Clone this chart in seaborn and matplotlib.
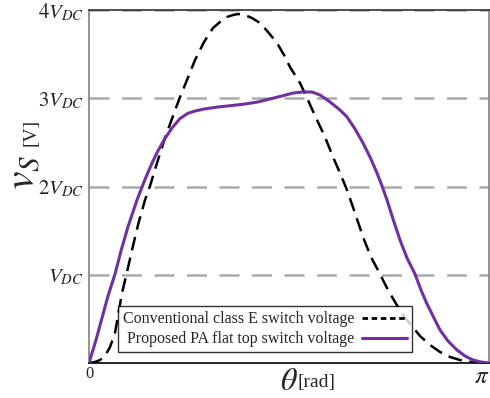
import matplotlib
matplotlib.use("Agg")
import matplotlib.pyplot as plt
from matplotlib.lines import Line2D
import seaborn as sns
import pandas as pd
import numpy as np

# values (theta in units of pi, voltage in units of V_DC)
conv_theta = [0.0, 0.015, 0.0275, 0.04, 0.0525, 0.065, 0.075, 0.0825, 0.095, 0.1075,
              0.1225, 0.14, 0.1525, 0.17, 0.19, 0.21, 0.2275, 0.245, 0.265, 0.2875,
              0.31, 0.3275, 0.345, 0.36, 0.3725, 0.39, 0.4075, 0.4275, 0.4475, 0.47,
              0.4875, 0.5025, 0.5275, 0.545, 0.57, 0.59, 0.61, 0.6275, 0.645, 0.665,
              0.685, 0.705, 0.7275, 0.7475, 0.765, 0.785, 0.8075, 0.8275, 0.8525, 0.8775,
              0.9025, 0.9275, 0.9525, 0.9775, 1.0]
conv_v = [0.0, 0.011, 0.034, 0.079, 0.181, 0.340, 0.601, 0.793, 1.031, 1.280,
          1.564, 1.847, 2.006, 2.266, 2.550, 2.799, 3.014, 3.207, 3.433, 3.637,
          3.796, 3.864, 3.921, 3.943, 3.955, 3.943, 3.909, 3.853, 3.751, 3.626,
          3.490, 3.354, 3.173, 3.003, 2.754, 2.561, 2.334, 2.153, 1.960, 1.700,
          1.428, 1.201, 1.008, 0.827, 0.691, 0.544, 0.419, 0.306, 0.204, 0.125,
          0.068, 0.034, 0.011, 0.0, 0.0]

flat_theta = [0.0, 0.0175, 0.0325, 0.0475, 0.065, 0.08, 0.0975, 0.12, 0.14, 0.1575,
              0.1725, 0.19, 0.2075, 0.2275, 0.2475, 0.265, 0.29, 0.3225, 0.3525, 0.39,
              0.4225, 0.4525, 0.4825, 0.51, 0.535, 0.5575, 0.5775, 0.6025, 0.6275, 0.645,
              0.665, 0.685, 0.7025, 0.72, 0.7325, 0.745, 0.76, 0.7775, 0.795, 0.815,
              0.83, 0.845, 0.8625, 0.8775, 0.8975, 0.92, 0.94, 0.96, 0.98, 1.0]
flat_v = [0.0, 0.261, 0.510, 0.759, 1.008, 1.270, 1.545, 1.847, 2.080, 2.265,
          2.405, 2.545, 2.663, 2.770, 2.830, 2.855, 2.880, 2.901, 2.915, 2.935,
          2.958, 2.992, 3.026, 3.059, 3.071, 3.071, 3.037, 2.958, 2.867, 2.788,
          2.652, 2.493, 2.334, 2.153, 2.006, 1.847, 1.632, 1.394, 1.190, 1.008,
          0.827, 0.669, 0.510, 0.374, 0.249, 0.147, 0.079, 0.034, 0.011, 0.0]

ytick_vals = [1, 2, 3, 4]
ytick_labels = [r'$V_{DC}$', r'$2V_{DC}$', r'$3V_{DC}$', r'$4V_{DC}$']
xtick_vals = [0, np.pi]
xtick_labels = ['0', r'$\pi$']
legend_labels = ['Conventional class E switch voltage', 'Proposed PA flat top switch voltage']

sns.set_style("white")
plt.rcParams['font.family'] = ['Liberation Serif', 'DejaVu Serif']
plt.rcParams['mathtext.fontset'] = 'stix'

purple = '#7030a0'

conv = pd.DataFrame({'theta': np.array(conv_theta) * np.pi, 'v': conv_v})
flat = pd.DataFrame({'theta': np.array(flat_theta) * np.pi, 'v': flat_v})

fig = plt.figure(figsize=(4.9, 3.98), dpi=100)
ax = fig.add_axes([89 / 490, 35 / 398, 400 / 490, 353 / 398])

# dashed grey level lines
for y in ytick_vals:
    ax.axhline(y, color='#aaaaaa', lw=1.8, ls=(0, (8, 5)), zorder=1)

sns.lineplot(data=conv, x='theta', y='v', ax=ax, color='black', lw=1.8,
             linestyle=(0, (5.5, 3)), sort=False, zorder=3)
sns.lineplot(data=flat, x='theta', y='v', ax=ax, color=purple, lw=2.2,
             sort=False, zorder=4)

ax.set_xlim(0, np.pi)
ax.set_ylim(0, 4)
ax.set_yticks(ytick_vals)
ax.set_yticklabels(ytick_labels, fontsize=15)
ax.set_xticks(xtick_vals)
ax.set_xticklabels(xtick_labels)
xl = ax.get_xticklabels()
xl[0].set_fontsize(12)
xl[1].set_fontsize(18)
xl[1].set_horizontalalignment('right')
ax.tick_params(axis='both', length=0, pad=4)
ax.tick_params(axis='x', pad=2)
ax.set_xlabel('')
ax.set_ylabel('')

ax.spines['left'].set_color('#808080')
ax.spines['right'].set_color('#808080')
ax.spines['top'].set_color('#303030')
ax.spines['bottom'].set_color('black')
for s in ax.spines.values():
    s.set_linewidth(1.2)

# axis titles (big symbol + small unit)
fig.text(0.051, 0.568, r'$v_S$', fontsize=30, rotation=90, ha='center', va='center')
fig.text(0.063, 0.667, '[V]', fontsize=14, rotation=90, ha='center', va='center')
fig.text(0.590, 0.040, r'$\theta$', fontsize=23, ha='center', va='center')
fig.text(0.608, 0.040, '[rad]', fontsize=14, ha='left', va='center')

handles = [Line2D([], [], color='black', lw=2, ls=(0, (2, 1.3))),
           Line2D([], [], color=purple, lw=2.2)]
leg = ax.legend(handles, legend_labels, loc='lower left', bbox_to_anchor=(0.0725, 0.031),
                borderaxespad=0, markerfirst=False, fontsize=11.5, frameon=True,
                fancybox=False, handlelength=2.8, borderpad=0.3, labelspacing=0.25,
                handletextpad=0.5)
leg.get_frame().set_edgecolor('black')
leg.get_frame().set_linewidth(1)

fig.savefig('out.png', dpi=100)
